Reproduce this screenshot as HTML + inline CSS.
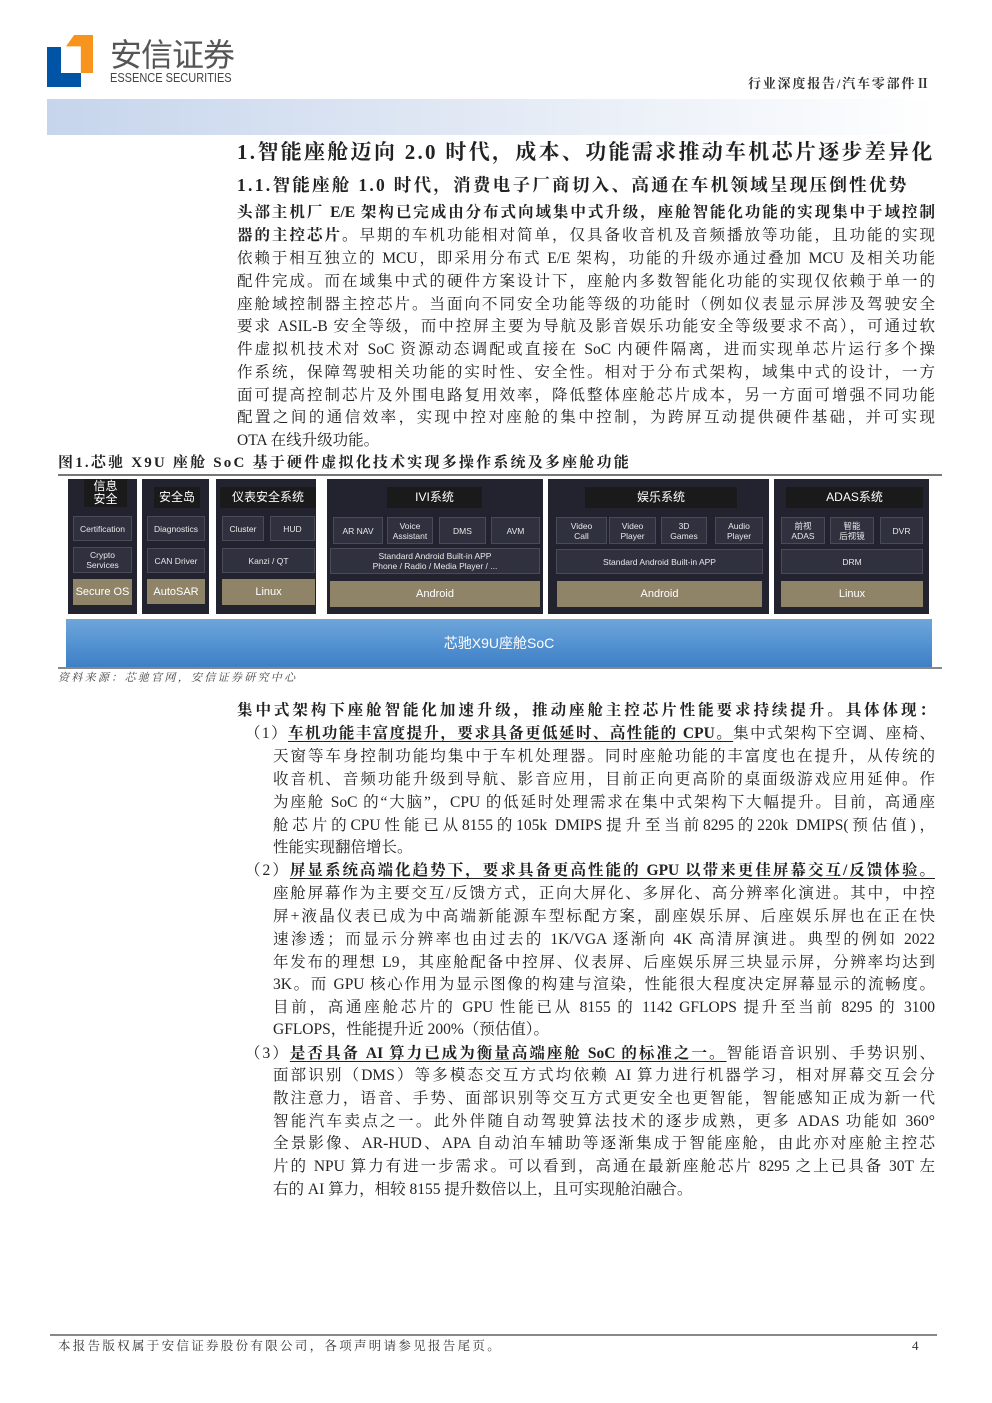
<!DOCTYPE html>
<html><head><meta charset="utf-8">
<style>
*{margin:0;padding:0;box-sizing:border-box}
body{width:992px;height:1403px;background:#fff;position:relative;overflow:hidden;font-family:"Liberation Serif","Noto Serif CJK SC",serif;color:#222}
.a{position:absolute}
.l{position:absolute;left:237px;width:698px;height:23px;line-height:23px;font-size:15.5px;white-space:nowrap;text-align:justify;text-align-last:justify}
.nl{text-align:left;text-align-last:left}
.i1{left:245px;width:690px}
.i2{left:273px;width:662px}
b{font-weight:700}
u{text-decoration:underline;text-underline-offset:3px}
.col{position:absolute;background:#23232f;top:479px;height:135px}
.bx{position:absolute;background:#30313f;border:1px solid #4a4b58;color:#e8e8e8;font-family:"Liberation Sans","Noto Sans CJK SC",sans-serif;font-size:8.5px;line-height:10px;display:flex;align-items:center;justify-content:center;text-align:center}
.tt{position:absolute;background:#1a1a1a;color:#fff;font-family:"Liberation Sans","Noto Sans CJK SC",sans-serif;font-size:12px;display:flex;align-items:center;justify-content:center;text-align:center;line-height:13px}
.tn{position:absolute;background:#8f8467;color:#fff;font-family:"Liberation Sans","Noto Sans CJK SC",sans-serif;font-size:11px;display:flex;align-items:center;justify-content:center}
</style></head><body>
<!-- logo -->
<div class="a" style="left:47px;top:47px;width:14px;height:40px;background:#0054a6"></div>
<div class="a" style="left:47px;top:73px;width:34px;height:14px;background:#0054a6"></div>
<div class="a" style="left:66px;top:35px;width:27px;height:38px;background:#f7941d;clip-path:polygon(30% 0,100% 0,100% 100%,55% 100%,55% 30%,0 30%)"></div>
<div class="a" style="left:110px;top:33px;font-family:'Noto Sans CJK SC',sans-serif;font-size:32px;color:#555;line-height:40px;letter-spacing:-1px">安信证券</div>
<div class="a" style="left:110px;top:71px;font-family:'Liberation Sans',sans-serif;font-size:12.5px;color:#444;transform:scaleX(0.88);transform-origin:left">ESSENCE SECURITIES</div>
<div class="a" style="left:748px;top:73px;font-size:13px;font-weight:700;color:#333;letter-spacing:1.8px">行业深度报告/汽车零部件Ⅱ</div>
<div class="a" style="left:47px;top:99px;width:890px;height:36px;background:linear-gradient(90deg,#c6d5ec,#e6ecf6 55%,#fff)"></div>

<div class="a" style="left:237px;top:138px;font-size:21px;font-weight:700;line-height:28px;letter-spacing:2.3px;white-space:nowrap">1.智能座舱迈向 2.0 时代，成本、功能需求推动车机芯片逐步差异化</div>
<div class="a" style="left:237px;top:173px;font-size:17.5px;font-weight:700;line-height:24px;letter-spacing:2.3px;white-space:nowrap">1.1.智能座舱 1.0 时代，消费电子厂商切入、高通在车机领域呈现压倒性优势</div>

<div class="l" style="top:201px"><b>头部主机厂 E/E 架构已完成由分布式向域集中式升级，座舱智能化功能的实现集中于域控制</b></div>
<div class="l" style="top:224px"><b>器的主控芯片。</b>早期的车机功能相对简单，仅具备收音机及音频播放等功能，且功能的实现</div>
<div class="l" style="top:247px">依赖于相互独立的 MCU，即采用分布式 E/E 架构，功能的升级亦通过叠加 MCU 及相关功能</div>
<div class="l" style="top:270px">配件完成。而在域集中式的硬件方案设计下，座舱内多数智能化功能的实现仅依赖于单一的</div>
<div class="l" style="top:293px">座舱域控制器主控芯片。当面向不同安全功能等级的功能时（例如仪表显示屏涉及驾驶安全</div>
<div class="l" style="top:315px">要求 ASIL-B 安全等级，而中控屏主要为导航及影音娱乐功能安全等级要求不高），可通过软</div>
<div class="l" style="top:338px">件虚拟机技术对 SoC 资源动态调配或直接在 SoC 内硬件隔离，进而实现单芯片运行多个操</div>
<div class="l" style="top:361px">作系统，保障驾驶相关功能的实时性、安全性。相对于分布式架构，域集中式的设计，一方</div>
<div class="l" style="top:384px">面可提高控制芯片及外围电路复用效率，降低整体座舱芯片成本，另一方面可增强不同功能</div>
<div class="l" style="top:406px">配置之间的通信效率，实现中控对座舱的集中控制，为跨屏互动提供硬件基础，并可实现</div>
<div class="l nl" style="top:429px">OTA 在线升级功能。</div>

<div class="a" style="left:58px;top:452px;font-size:15px;font-weight:700;line-height:22px;letter-spacing:2.2px;white-space:nowrap">图1.芯驰 X9U 座舱 SoC 基于硬件虚拟化技术实现多操作系统及多座舱功能</div>
<div class="a" style="left:58px;top:474px;width:884px;height:2px;background:#777"></div>

<!-- diagram -->
<div class="col" style="left:68px;width:69px"></div>
<div class="col" style="left:142px;width:67px"></div>
<div class="col" style="left:216px;width:100px"></div>
<div class="col" style="left:327px;width:216px"></div>
<div class="col" style="left:548px;width:221px"></div>
<div class="col" style="left:774px;width:155px"></div>

<div class="tt" style="left:84px;top:479px;width:43px;height:28px">信息<br>安全</div>
<div class="bx" style="left:73px;top:516px;width:59px;height:25px">Certification</div>
<div class="bx" style="left:73px;top:547px;width:59px;height:26px">Crypto<br>Services</div>
<div class="tn" style="left:73px;top:579px;width:59px;height:26px">Secure OS</div>

<div class="tt" style="left:154px;top:487px;width:46px;height:21px">安全岛</div>
<div class="bx" style="left:147px;top:516px;width:58px;height:25px">Diagnostics</div>
<div class="bx" style="left:147px;top:548px;width:58px;height:25px">CAN Driver</div>
<div class="tn" style="left:147px;top:579px;width:58px;height:25px">AutoSAR</div>

<div class="tt" style="left:220px;top:487px;width:96px;height:21px">仪表安全系统</div>
<div class="bx" style="left:222px;top:516px;width:42px;height:25px">Cluster</div>
<div class="bx" style="left:270px;top:516px;width:45px;height:25px">HUD</div>
<div class="bx" style="left:222px;top:548px;width:93px;height:25px">Kanzi / QT</div>
<div class="tn" style="left:222px;top:579px;width:93px;height:26px">Linux</div>

<div class="tt" style="left:387px;top:487px;width:95px;height:21px">IVI系统</div>
<div class="bx" style="left:333px;top:517px;width:50px;height:27px">AR NAV</div>
<div class="bx" style="left:387px;top:517px;width:46px;height:27px">Voice<br>Assistant</div>
<div class="bx" style="left:439px;top:517px;width:47px;height:27px">DMS</div>
<div class="bx" style="left:491px;top:517px;width:49px;height:27px">AVM</div>
<div class="bx" style="left:330px;top:548px;width:210px;height:26px">Standard Android Built-in APP<br>Phone / Radio / Media Player / ...</div>
<div class="tn" style="left:330px;top:581px;width:210px;height:26px">Android</div>

<div class="tt" style="left:585px;top:487px;width:152px;height:21px">娱乐系统</div>
<div class="bx" style="left:556px;top:517px;width:51px;height:27px">Video<br>Call</div>
<div class="bx" style="left:609px;top:517px;width:47px;height:27px">Video<br>Player</div>
<div class="bx" style="left:661px;top:517px;width:46px;height:27px">3D<br>Games</div>
<div class="bx" style="left:715px;top:517px;width:48px;height:27px">Audio<br>Player</div>
<div class="bx" style="left:556px;top:549px;width:207px;height:25px">Standard Android Built-in APP</div>
<div class="tn" style="left:557px;top:581px;width:205px;height:26px">Android</div>

<div class="tt" style="left:786px;top:487px;width:137px;height:21px">ADAS系统</div>
<div class="bx" style="left:781px;top:517px;width:44px;height:27px">前视<br>ADAS</div>
<div class="bx" style="left:830px;top:517px;width:44px;height:27px">智能<br>后视镜</div>
<div class="bx" style="left:880px;top:517px;width:43px;height:27px">DVR</div>
<div class="bx" style="left:781px;top:549px;width:142px;height:25px">DRM</div>
<div class="tn" style="left:781px;top:581px;width:142px;height:26px">Linux</div>

<div class="a" style="left:66px;top:619px;width:866px;height:48px;background:linear-gradient(180deg,#6fa6da,#4f8fd0 60%,#3f7fc4);color:#fff;font-family:'Liberation Sans','Noto Sans CJK SC',sans-serif;font-size:14px;display:flex;align-items:center;justify-content:center">芯驰X9U座舱SoC</div>
<div class="a" style="left:58px;top:667px;width:884px;height:2px;background:#888"></div>
<div class="a" style="left:58px;top:670px;font-size:11px;font-style:italic;color:#444;line-height:16px;letter-spacing:2.3px;white-space:nowrap">资料来源：芯驰官网，安信证券研究中心</div>

<div class="l" style="top:699px;font-weight:700">集中式架构下座舱智能化加速升级，推动座舱主控芯片性能要求持续提升。具体体现：</div>
<div class="l i1" style="top:722px">（1）<b><u>车机功能丰富度提升，要求具备更低延时、高性能的 CPU。</u></b>集中式架构下空调、座椅、</div>
<div class="l i2" style="top:745px">天窗等车身控制功能均集中于车机处理器。同时座舱功能的丰富度也在提升，从传统的</div>
<div class="l i2" style="top:768px">收音机、音频功能升级到导航、影音应用，目前正向更高阶的桌面级游戏应用延伸。作</div>
<div class="l i2" style="top:791px">为座舱 SoC 的“大脑”，CPU 的低延时处理需求在集中式架构下大幅提升。目前，高通座</div>
<div class="l i2" style="top:814px">舱芯片的CPU性能已从8155的105k DMIPS提升至当前8295的220k DMIPS(预估值)，</div>
<div class="l i2 nl" style="top:836px">性能实现翻倍增长。</div>
<div class="l i1" style="top:859px">（2）<b><u>屏显系统高端化趋势下，要求具备更高性能的 GPU 以带来更佳屏幕交互/反馈体验。</u></b></div>
<div class="l i2" style="top:882px">座舱屏幕作为主要交互/反馈方式，正向大屏化、多屏化、高分辨率化演进。其中，中控</div>
<div class="l i2" style="top:905px">屏+液晶仪表已成为中高端新能源车型标配方案，副座娱乐屏、后座娱乐屏也在正在快</div>
<div class="l i2" style="top:928px">速渗透；而显示分辨率也由过去的 1K/VGA 逐渐向 4K 高清屏演进。典型的例如 2022</div>
<div class="l i2" style="top:951px">年发布的理想 L9，其座舱配备中控屏、仪表屏、后座娱乐屏三块显示屏，分辨率均达到</div>
<div class="l i2" style="top:973px">3K。而 GPU 核心作用为显示图像的构建与渲染，性能很大程度决定屏幕显示的流畅度。</div>
<div class="l i2" style="top:996px">目前，高通座舱芯片的 GPU 性能已从 8155 的 1142 GFLOPS 提升至当前 8295 的 3100</div>
<div class="l i2 nl" style="top:1018px">GFLOPS，性能提升近 200%（预估值）。</div>
<div class="l i1" style="top:1042px">（3）<b><u>是否具备 AI 算力已成为衡量高端座舱 SoC 的标准之一。</u></b>智能语音识别、手势识别、</div>
<div class="l i2" style="top:1064px">面部识别（DMS）等多模态交互方式均依赖 AI 算力进行机器学习，相对屏幕交互会分</div>
<div class="l i2" style="top:1087px">散注意力，语音、手势、面部识别等交互方式更安全也更智能，智能感知正成为新一代</div>
<div class="l i2" style="top:1110px">智能汽车卖点之一。此外伴随自动驾驶算法技术的逐步成熟，更多 ADAS 功能如 360°</div>
<div class="l i2" style="top:1132px">全景影像、AR-HUD、APA 自动泊车辅助等逐渐集成于智能座舱，由此亦对座舱主控芯</div>
<div class="l i2" style="top:1155px">片的 NPU 算力有进一步需求。可以看到，高通在最新座舱芯片 8295 之上已具备 30T 左</div>
<div class="l i2 nl" style="top:1178px">右的 AI 算力，相较 8155 提升数倍以上，且可实现舱泊融合。</div>

<div class="a" style="left:50px;top:1334px;width:887px;height:2px;background:#888"></div>
<div class="a" style="left:58px;top:1337px;font-size:12.5px;line-height:18px;color:#333;letter-spacing:2.3px;white-space:nowrap">本报告版权属于安信证券股份有限公司，各项声明请参见报告尾页。</div>
<div class="a" style="left:912px;top:1337px;font-size:13px;line-height:18px;color:#333">4</div>
</body></html>
